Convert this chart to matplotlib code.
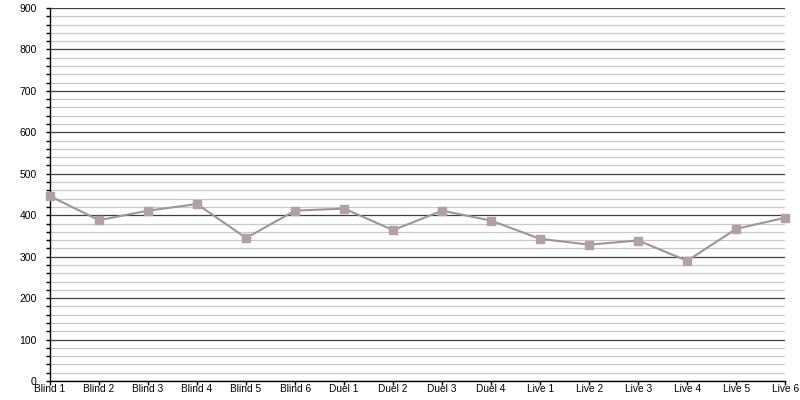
import numpy as np
import matplotlib.pyplot as plt
from matplotlib.ticker import MultipleLocator

plt.rcParams['font.family'] = ['Liberation Sans', 'DejaVu Sans']

labels = ["Blind 1", "Blind 2", "Blind 3", "Blind 4", "Blind 5", "Blind 6",
          "Duel 1", "Duel 2", "Duel 3", "Duel 4",
          "Live 1", "Live 2", "Live 3", "Live 4", "Live 5", "Live 6"]
values = [446, 388, 411, 427, 345, 411,
          416, 364, 411, 387,
          343, 329, 339, 290, 367, 394]

fig = plt.figure(figsize=(8, 4), dpi=100)
ax = fig.add_axes([0.0625, 0.0475, 0.919, 0.9325])

x = np.arange(len(labels))
ax.plot(x, values, color="#a29394", lw=1.5, marker="s", ms=6,
        mfc="#b2a1a4", mec="#b2a1a4", clip_on=False, zorder=3)

ax.set_xlim(0, len(labels) - 1)
ax.set_ylim(0, 900)
ax.set_xticks(x)
ax.set_xticklabels(labels, fontsize=7.3)
ax.yaxis.set_major_locator(MultipleLocator(100))
ax.yaxis.set_minor_locator(MultipleLocator(20))
ax.tick_params(axis="y", which="major", labelsize=7.5, length=3, width=1, direction="out", pad=6.5)
ax.tick_params(axis="y", which="minor", length=3, width=1, direction="out")
ax.tick_params(axis="x", length=3, width=1, direction="out", pad=-0.5)

ax.grid(axis="y", which="major", color="#404040", lw=0.9)
ax.grid(axis="y", which="minor", color="#c8c8c8", lw=0.9)
ax.set_axisbelow(True)

for s in ["top", "right"]:
    ax.spines[s].set_visible(False)
ax.spines["left"].set_linewidth(1)
ax.spines["bottom"].set_linewidth(1)

fig.savefig("out.png", dpi=100)
